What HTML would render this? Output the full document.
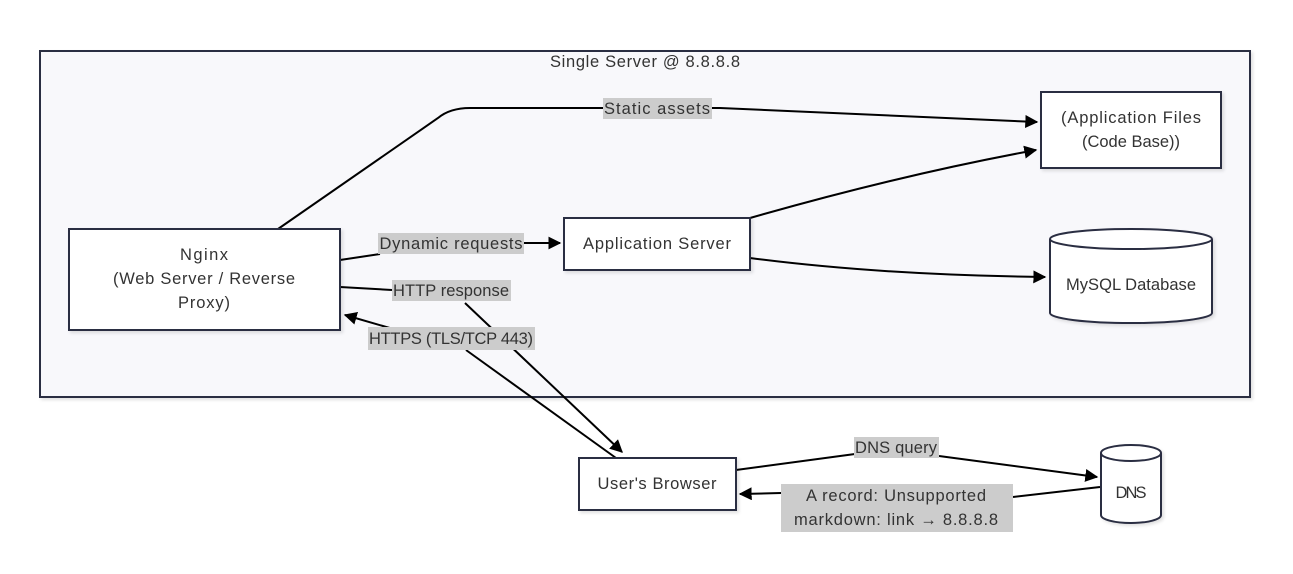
<!DOCTYPE html>
<html><head><meta charset="utf-8"><style>
html,body{margin:0;padding:0;background:#fff;}
svg text{font-family:"Liberation Sans",sans-serif;font-size:16.5px;fill:#333;}
</style></head><body>
<svg width="1293" height="569" viewBox="0 0 1293 569" xmlns="http://www.w3.org/2000/svg">
<defs>
<marker id="a" viewBox="0 0 10 10" refX="9" refY="5" markerWidth="13" markerHeight="13" orient="auto-start-reverse" markerUnits="userSpaceOnUse"><path d="M0,0L10,5L0,10z" fill="#000"/></marker>
<filter id="s"><feDropShadow dx="2" dy="2" stdDeviation="1.5" flood-color="#000" flood-opacity="0.12"/></filter>
</defs>
<rect x="40" y="51" width="1210" height="346" fill="#f8f8fb" stroke="#2b2d42" stroke-width="2" filter="url(#s)"/>
<text x="645" y="67" text-anchor="middle" textLength="190">Single Server @ 8.8.8.8</text>

<g fill="none" stroke="#000" stroke-width="2">
<path d="M278,229 L438,118 Q450,108 470,108 L720,108 L1037,122" marker-end="url(#a)"/>
<path d="M340,260 L380,254"/>
<path d="M524,243 L560,243" marker-end="url(#a)"/>
<path d="M340,287 L392,290"/>
<path d="M465,303 L622,452" marker-end="url(#a)"/>
<path d="M616,458 L466,350"/>
<path d="M400,331 L345,315" marker-end="url(#a)"/>
<path d="M750,218 Q900,175 1036,150" marker-end="url(#a)"/>
<path d="M750,258 Q880,275 1045,277" marker-end="url(#a)"/>
<path d="M736,470 L855,454"/>
<path d="M939,456 L1097,477" marker-end="url(#a)"/>
<path d="M1100,487 L1013,497"/>
<path d="M781,493 L740,494" marker-end="url(#a)"/>
</g>

<g fill="#fff" stroke="#2b2d42" stroke-width="2" filter="url(#s)">
<rect x="69" y="229" width="271" height="101"/>
<rect x="564" y="218" width="186" height="52"/>
<rect x="1041" y="92" width="180" height="76"/>
<rect x="579" y="458" width="157" height="52"/>
<path d="M1050,239 L1050,313 A81,10 0 0 0 1212,313 L1212,239 A81,10 0 0 0 1050,239 Z"/>
<path d="M1050,239 A81,10 0 0 0 1212,239" fill="none"/>
<path d="M1101,453 L1101,515 A30,8 0 0 0 1161,515 L1161,453 A30,8 0 0 0 1101,453 Z"/>
<path d="M1101,453 A30,8 0 0 0 1161,453" fill="none"/>
</g>

<g fill="#ccc">
<rect x="603" y="98" width="109" height="21"/>
<rect x="378" y="233" width="146" height="21"/>
<rect x="392" y="280" width="119" height="21"/>
<rect x="368" y="327" width="167" height="23"/>
<rect x="854" y="437" width="85" height="21"/>
<rect x="781" y="484" width="232" height="48"/>
</g>
<text x="657" y="114" text-anchor="middle" textLength="106">Static assets</text>
<text x="451" y="249" text-anchor="middle" textLength="143">Dynamic requests</text>
<text x="451" y="296" text-anchor="middle" textLength="116">HTTP response</text>
<text x="451" y="344" text-anchor="middle" textLength="164">HTTPS (TLS/TCP 443)</text>
<text x="896" y="453" text-anchor="middle" textLength="82">DNS query</text>
<text x="896" y="501" text-anchor="middle" textLength="180">A record: Unsupported</text>
<text x="896" y="525" text-anchor="middle" textLength="204">markdown: link → 8.8.8.8</text>

<text x="204" y="260" text-anchor="middle" textLength="48">Nginx</text>
<text x="204" y="284" text-anchor="middle" textLength="182">(Web Server / Reverse</text>
<text x="204" y="308" text-anchor="middle" textLength="52">Proxy)</text>
<text x="657" y="249" text-anchor="middle" textLength="148">Application Server</text>
<text x="1131" y="123" text-anchor="middle" textLength="140">(Application Files</text>
<text x="1131" y="147" text-anchor="middle" textLength="98">(Code Base))</text>
<text x="1131" y="290" text-anchor="middle" textLength="130">MySQL Database</text>
<text x="657" y="489" text-anchor="middle" textLength="119">User's Browser</text>
<text x="1131" y="498" text-anchor="middle" textLength="31">DNS</text>
</svg>
</body></html>
